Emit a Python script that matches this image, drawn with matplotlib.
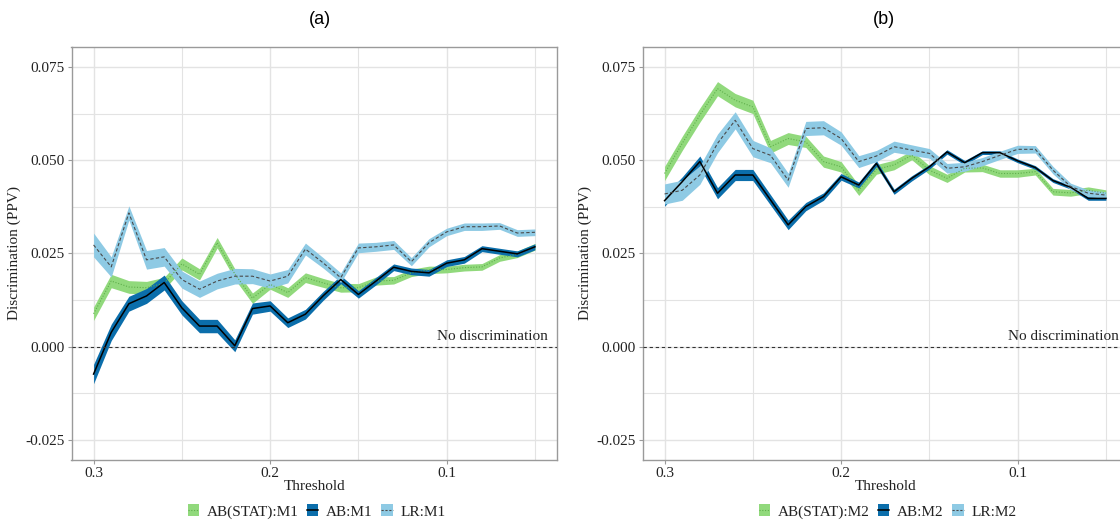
import matplotlib
matplotlib.use("Agg")
import matplotlib.pyplot as plt
from matplotlib.patches import Patch
from matplotlib.lines import Line2D
from matplotlib.ticker import FixedLocator
import numpy as np

# ---- data -------------------------------------------------------------
thresholds = [0.30, 0.29, 0.28, 0.27, 0.26, 0.25, 0.24, 0.23, 0.22, 0.21,
              0.20, 0.19, 0.18, 0.17, 0.16, 0.15, 0.14, 0.13, 0.12, 0.11,
              0.10, 0.09, 0.08, 0.07, 0.06, 0.05]

# Model M1
stat_m1 = [0.0088, 0.0176, 0.0160, 0.0158, 0.0170, 0.0222, 0.0194, 0.0279, 0.0195, 0.0130,
           0.0167, 0.0145, 0.0185, 0.0171, 0.0158, 0.0158, 0.0176, 0.0178, 0.0198, 0.0206,
           0.0207, 0.0212, 0.0214, 0.0238, 0.0248, 0.0268]
ab_m1 = [-0.0074, 0.0038, 0.0115, 0.0136, 0.0172, 0.0104, 0.0055, 0.0055, 0.0002, 0.0102,
         0.0109, 0.0064, 0.0087, 0.0136, 0.0180, 0.0140, 0.0176, 0.0213, 0.0202, 0.0198,
         0.0224, 0.0233, 0.0263, 0.0256, 0.0249, 0.0268]
lr_m1 = [0.0273, 0.0214, 0.0359, 0.0233, 0.0241, 0.0180, 0.0154, 0.0176, 0.0189, 0.0189,
         0.0176, 0.0189, 0.0262, 0.0225, 0.0185, 0.0265, 0.0268, 0.0273, 0.0228, 0.0279,
         0.0308, 0.0322, 0.0322, 0.0324, 0.0305, 0.0307]

# Model M2
stat_m2 = [0.0465, 0.0546, 0.0622, 0.0693, 0.0662, 0.0644, 0.0537, 0.0559, 0.0550, 0.0497,
           0.0483, 0.0420, 0.0476, 0.0488, 0.0514, 0.0474, 0.0452, 0.0479, 0.0480, 0.0465,
           0.0465, 0.0470, 0.0416, 0.0413, 0.0420, 0.0412]
ab_m2 = [0.0392, 0.0443, 0.0497, 0.0412, 0.0461, 0.0461, 0.0394, 0.0327, 0.0376, 0.0403,
         0.0456, 0.0434, 0.0492, 0.0416, 0.0452, 0.0483, 0.0523, 0.0494, 0.0521, 0.0521,
         0.0499, 0.0481, 0.0446, 0.0428, 0.0398, 0.0398]
lr_m2 = [0.0410, 0.0420, 0.0461, 0.0546, 0.0608, 0.0532, 0.0514, 0.0447, 0.0586, 0.0588,
         0.0559, 0.0497, 0.0512, 0.0537, 0.0528, 0.0519, 0.0479, 0.0483, 0.0497, 0.0514,
         0.0530, 0.0530, 0.0474, 0.0430, 0.0412, 0.0407]

# Half-widths of the uncertainty bands
stat_m1_hw = [0.0018, 0.0018, 0.0017, 0.0017, 0.0016, 0.0016, 0.0015, 0.0014, 0.0014, 0.0014,
              0.0013, 0.0013, 0.0013, 0.0012, 0.0012, 0.0011, 0.0011, 0.0010, 0.0010, 0.0010,
              0.0009, 0.0009, 0.0009, 0.0009, 0.0009, 0.0009]
ab_m1_hw = [0.0026, 0.0022, 0.0020, 0.0020, 0.0020, 0.0019, 0.0018, 0.0018, 0.0016, 0.0015,
            0.0014, 0.0013, 0.0013, 0.0012, 0.0011, 0.0010, 0.0010, 0.0009, 0.0009, 0.0009,
            0.0009, 0.0009, 0.0008, 0.0008, 0.0008, 0.0008]
lr_m1_hw = [0.0032, 0.0027, 0.0019, 0.0025, 0.0025, 0.0023, 0.0022, 0.0021, 0.0021, 0.0020,
            0.0019, 0.0018, 0.0016, 0.0014, 0.0013, 0.0013, 0.0012, 0.0012, 0.0011, 0.0011,
            0.0010, 0.0010, 0.0010, 0.0009, 0.0009, 0.0009]
stat_m2_hw = [0.0019, 0.0019, 0.0019, 0.0019, 0.0018, 0.0018, 0.0017, 0.0016, 0.0015, 0.0015,
              0.0014, 0.0014, 0.0013, 0.0013, 0.0012, 0.0012, 0.0011, 0.0010, 0.0010, 0.0010,
              0.0010, 0.0009, 0.0009, 0.0009, 0.0009, 0.0009]
ab_m2_hw = [0.0015, 0.0013, 0.0015, 0.0015, 0.0015, 0.0015, 0.0014, 0.0013, 0.0011, 0.0010,
            0.0009, 0.0008, 0.0008, 0.0007, 0.0007, 0.0006, 0.0006, 0.0006, 0.0005, 0.0005,
            0.0005, 0.0005, 0.0005, 0.0005, 0.0005, 0.0005]
lr_m2_hw = [0.0027, 0.0027, 0.0025, 0.0025, 0.0023, 0.0022, 0.0020, 0.0019, 0.0019, 0.0019,
            0.0018, 0.0016, 0.0015, 0.0015, 0.0014, 0.0013, 0.0013, 0.0012, 0.0011, 0.0011,
            0.0011, 0.0010, 0.0010, 0.0009, 0.0009, 0.0009]

y_ticks = [0.075, 0.050, 0.025, 0.000, -0.025]
y_tick_labels = ["0.075", "0.050", "0.025", "0.000", "-0.025"]
x_ticks = [0.3, 0.2, 0.1]
x_tick_labels = ["0.3", "0.2", "0.1"]

# ---- style ------------------------------------------------------------
SERIF = ["Liberation Serif", "DejaVu Serif"]
SANS = ["Liberation Sans", "DejaVu Sans"]
GREEN = "#91d97c"
GREEN_LINE = "#5fae4c"
DBLUE = "#0b6eab"
LBLUE = "#8ecae4"
GRID = "#e3e3e3"
SPINE = "#9a9a9a"
TEXT = "#222222"
FS = 11

W, H = 1120, 521
fig = plt.figure(figsize=(W / 100, H / 100), dpi=100)

x = np.array(thresholds)


def band(ax, y, hw, fill, z):
    y = np.array(y)
    hw = np.array(hw)
    ax.fill_between(x, y - hw, y + hw, color=fill, lw=0, zorder=z)


def panel(rect, stat, ab, lr, stat_hw, ab_hw, lr_hw, tag):
    ax = fig.add_axes(rect)
    ax.set_xlim(0.3125, 0.0375)
    ax.set_ylim(-0.0305, 0.0805)

    ax.xaxis.set_major_locator(FixedLocator(x_ticks))
    ax.xaxis.set_minor_locator(FixedLocator([0.25, 0.15, 0.05]))
    ax.yaxis.set_major_locator(FixedLocator(y_ticks))
    ax.yaxis.set_minor_locator(FixedLocator([0.0625, 0.0375, 0.0125, -0.0125]))
    ax.set_xticklabels(x_tick_labels)
    ax.set_yticklabels(y_tick_labels)
    ax.grid(which="major", color=GRID, lw=1.0, zorder=0)
    ax.grid(which="minor", color=GRID, lw=0.8, zorder=0)
    ax.set_axisbelow(True)

    for s in ax.spines.values():
        s.set_color(SPINE)
        s.set_linewidth(1.0)
    ax.tick_params(which="major", length=3, width=0.8, color=SPINE,
                   labelsize=FS, labelcolor=TEXT, pad=2)
    ax.tick_params(which="minor", length=0)
    for lab in ax.get_xticklabels() + ax.get_yticklabels():
        lab.set_family(SERIF)

    # bands (drawn first), then centre lines on top
    band(ax, stat, stat_hw, GREEN, 2)
    band(ax, ab, ab_hw, DBLUE, 3)
    band(ax, lr, lr_hw, LBLUE, 4)
    ax.plot(x, stat, color=GREEN_LINE, lw=0.8, ls=(0, (1, 1.5)), zorder=5)
    ax.plot(x, ab, color="black", lw=1.1, ls="-", zorder=6)
    ax.plot(x, lr, color="#4a4a4a", lw=0.8, ls=(0, (3, 2)), zorder=7)

    ax.axhline(0, color="#333333", lw=0.8, ls=(0, (3, 2.5)), zorder=8)
    ax.text(0.0428, 0.0009, "No discrimination", family=SERIF, fontsize=FS,
            color=TEXT, ha="right", va="bottom", zorder=9)

    ax.set_xlabel("Threshold", family=SERIF, fontsize=FS, color=TEXT, labelpad=0)
    ax.set_ylabel("Discrimination (PPV)", family=SERIF, fontsize=FS, color=TEXT, labelpad=3)

    handles = [
        (Patch(facecolor=GREEN, edgecolor="none"),
         Line2D([], [], color=GREEN_LINE, lw=0.8, ls=(0, (1, 1.5)))),
        (Patch(facecolor=DBLUE, edgecolor="none"),
         Line2D([], [], color="black", lw=1.1)),
        (Patch(facecolor=LBLUE, edgecolor="none"),
         Line2D([], [], color="#4a4a4a", lw=0.8, ls=(0, (2, 1.5)))),
    ]
    labels = [f"AB(STAT):{tag}", f"AB:{tag}", f"LR:{tag}"]
    cx = rect[0] + rect[2] / 2
    leg = fig.legend(handles, labels, loc="center", bbox_to_anchor=(cx + 0.002, 0.018),
                     ncol=3, frameon=False, handlelength=0.75, handleheight=0.8,
                     handletextpad=0.5, columnspacing=0.55,
                     prop={"family": SERIF, "size": FS})
    for t in leg.get_texts():
        t.set_color(TEXT)
    return ax


ax_a = panel([71.5 / W, 61 / H, 485.5 / W, 413 / H],
             stat_m1, ab_m1, lr_m1, stat_m1_hw, ab_m1_hw, lr_m1_hw, "M1")
ax_b = panel([642.5 / W, 61 / H, 485.5 / W, 413 / H],
             stat_m2, ab_m2, lr_m2, stat_m2_hw, ab_m2_hw, lr_m2_hw, "M2")

fig.text(320 / W, 1 - 19 / H, "(a)", family=SANS, fontsize=13, ha="center", va="center", color="black")
fig.text(884 / W, 1 - 19 / H, "(b)", family=SANS, fontsize=13, ha="center", va="center", color="black")

fig.savefig("out.png", dpi=100, facecolor="white")
